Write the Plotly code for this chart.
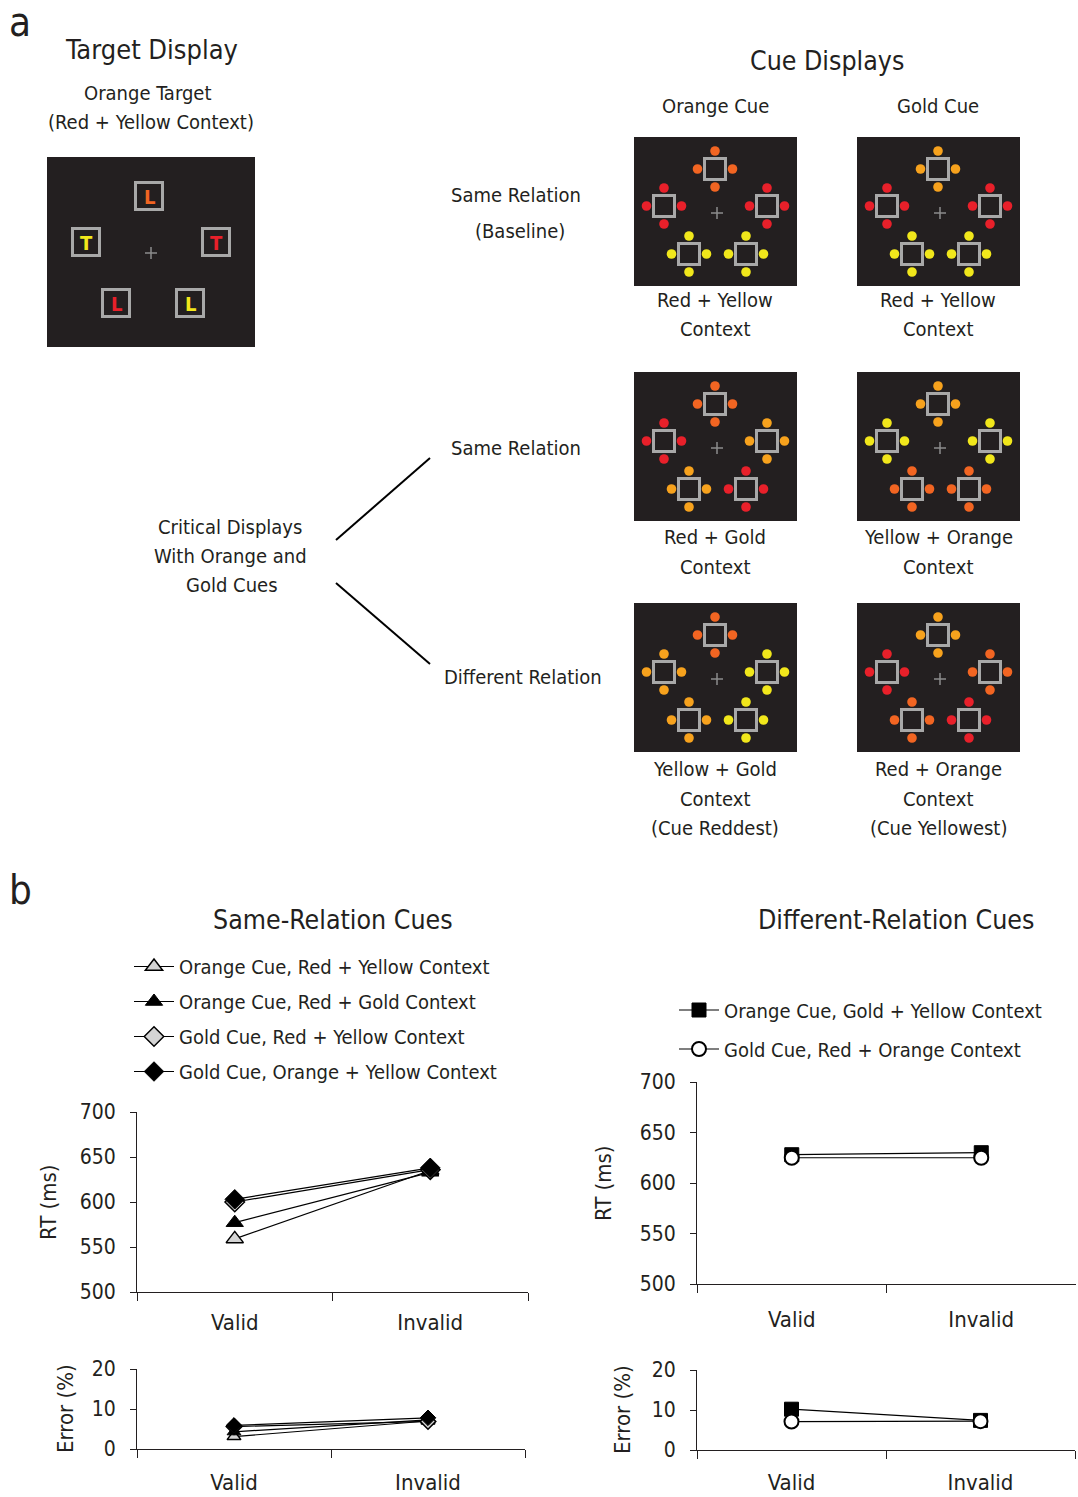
import plotly.graph_objects as go

W, H = 1078, 1497
FONT = "Liberation Sans Narrow, Arial Narrow, DejaVu Sans Condensed, sans-serif"
INK = "#231f20"

# ---------------- data (panel b) ----------------
conditions = ["Valid", "Invalid"]

same_names = ["Orange Cue, Red + Yellow Context", "Orange Cue, Red + Gold Context",
              "Gold Cue, Red + Yellow Context", "Gold Cue, Orange + Yellow Context"]
same_rt_orange_ry = [559, 635]
same_rt_orange_rg = [577, 633]
same_rt_gold_ry = [600, 636]
same_rt_gold_oy = [603, 638]
same_err_orange_ry = [3.1, 7.0]
same_err_orange_rg = [4.3, 7.3]
same_err_gold_ry = [5.6, 6.9]
same_err_gold_oy = [5.9, 7.8]

diff_names = ["Orange Cue, Gold + Yellow Context", "Gold Cue, Red + Orange Context"]
diff_rt_orange_gy = [628, 630]
diff_rt_gold_ro = [625, 625]
diff_err_orange_gy = [10.2, 7.4]
diff_err_gold_ro = [7.1, 7.2]

rt_ticks = [500, 550, 600, 650, 700]
err_ticks = [0, 10, 20]

# ---------------- panel a display configs ----------------
RED, ORANGE, GOLD, YELLOW = "#e8202a", "#f26522", "#f7a21d", "#f1e71b"
# order: top, left, right, bottom-left, bottom-right
cue_displays = [
    [ORANGE, RED, RED, YELLOW, YELLOW],
    [GOLD, RED, RED, YELLOW, YELLOW],
    [ORANGE, RED, GOLD, GOLD, RED],
    [GOLD, YELLOW, YELLOW, ORANGE, ORANGE],
    [ORANGE, GOLD, YELLOW, GOLD, YELLOW],
    [GOLD, RED, ORANGE, ORANGE, RED],
]
target_letters = ["L", "T", "T", "L", "L"]
target_colors = [ORANGE, YELLOW, RED, RED, YELLOW]


def X(px):
    return px / W


def Y(py):
    return 1 - py / H


shapes = []
annotations = []


def text(x, y, s, size=20, anchor="center", color=INK, angle=0):
    annotations.append(dict(x=X(x), y=Y(y), xref="paper", yref="paper", text=s,
                            showarrow=False, textangle=angle,
                            font=dict(family=FONT, size=size, color=color),
                            xanchor=anchor, yanchor="middle"))


def rect(x0, y0, x1, y1, fill=None, line=None, lw=0):
    shapes.append(dict(type="rect", xref="paper", yref="paper",
                       x0=X(x0), x1=X(x1), y0=Y(y1), y1=Y(y0),
                       fillcolor=fill if fill else "rgba(0,0,0,0)",
                       line=dict(color=line if line else "rgba(0,0,0,0)", width=lw)))


def circ(cx, cy, r, fill):
    shapes.append(dict(type="circle", xref="paper", yref="paper",
                       x0=X(cx - r), x1=X(cx + r), y0=Y(cy + r), y1=Y(cy - r),
                       fillcolor=fill, line=dict(width=0)))


def seg(x0, y0, x1, y1, color=INK, lw=1.5):
    shapes.append(dict(type="line", xref="paper", yref="paper",
                       x0=X(x0), x1=X(x1), y0=Y(y0), y1=Y(y1),
                       line=dict(color=color, width=lw)))


BG = "#231f20"
SQ = "#a8a8a8"
CROSS = "#8c8c8c"

# target display
rect(47, 157, 255, 347, fill=BG)
t_pos = [(149, 196), (86, 242), (216, 242), (116, 303), (190, 303)]
for (cx, cy), letter, col in zip(t_pos, target_letters, target_colors):
    rect(cx - 13.5, cy - 13.5, cx + 13.5, cy + 13.5, line=SQ, lw=3)
    text(cx, cy + 1, "<b>" + letter + "</b>", size=20, color=col)
seg(145, 253, 157, 253, CROSS, 1.5)
seg(151, 247, 151, 259, CROSS, 1.5)

# cue displays
origins = [(634, 137), (857, 137), (634, 372), (857, 372), (634, 603), (857, 603)]
rel = [(81, 32), (30, 69), (133, 69), (55, 117), (112, 117)]
for (ox, oy), cols in zip(origins, cue_displays):
    rect(ox, oy, ox + 163, oy + 149, fill=BG)
    for (rx, ry), col in zip(rel, cols):
        cx, cy = ox + rx, oy + ry
        for dx, dy in [(0, -18), (0, 18), (-17.5, 0), (17.5, 0)]:
            circ(cx + dx, cy + dy, 4.8, col)
        rect(cx - 10.5, cy - 10.5, cx + 10.5, cy + 10.5, line=SQ, lw=3)
    cx, cy = ox + 83, oy + 76
    seg(cx - 6, cy, cx + 6, cy, CROSS, 1.5)
    seg(cx, cy - 6, cx, cy + 6, CROSS, 1.5)

# connector lines
seg(336, 540, 430, 458, "black", 2)
seg(336, 583, 430, 664, "black", 2)

# panel a texts
text(20, 22, "a", size=40)
text(151, 50, "Target Display", size=27)
text(148, 93, "Orange Target", size=20)
text(151, 122, "(Red + Yellow Context)", size=20)
text(827, 60, "Cue Displays", size=26.5)
text(715, 106, "Orange Cue", size=20)
text(938, 106, "Gold Cue", size=20)
text(516, 195, "Same Relation", size=20)
text(520, 231, "(Baseline)", size=20)
text(516, 448, "Same Relation", size=20)
text(523, 677, "Different Relation", size=20)
text(230, 527, "Critical Displays", size=20)
text(230, 556, "With Orange and", size=20)
text(232, 585, "Gold Cues", size=20)
for cx, lines, y0 in [(715, ["Red + Yellow", "Context"], 300), (938, ["Red + Yellow", "Context"], 300),
                      (715, ["Red + Gold", "Context"], 537), (938, ["Yellow + Orange", "Context"], 537),
                      (715, ["Yellow + Gold", "Context", "(Cue Reddest)"], 769),
                      (938, ["Red + Orange", "Context", "(Cue Yellowest)"], 769)]:
    for i, s in enumerate(lines):
        text(cx, y0 + i * 29.5, s, size=20)

# panel b texts
text(20, 890, "b", size=40)
text(333, 919, "Same-Relation Cues", size=26.5)
text(896, 919, "Different-Relation Cues", size=26.5)
text(48, 1202, "RT (ms)", size=22, angle=-90)
text(65, 1409, "Error (%)", size=22, angle=-90)
text(603, 1183, "RT (ms)", size=22, angle=-90)
text(622, 1410, "Error (%)", size=22, angle=-90)

# ---------------- traces ----------------
fig = go.Figure()
LINE = dict(color="black", width=1.2)
same_rt = [same_rt_orange_ry, same_rt_orange_rg, same_rt_gold_ry, same_rt_gold_oy]
same_err = [same_err_orange_ry, same_err_orange_rg, same_err_gold_ry, same_err_gold_oy]
same_markers = [
    dict(symbol="triangle-up", color="#d4d4d4", size=15, line=dict(color="black", width=1.5)),
    dict(symbol="triangle-up", color="black", size=15, line=dict(color="black", width=1)),
    dict(symbol="diamond", color="#d4d4d4", size=15, line=dict(color="black", width=1.5)),
    dict(symbol="diamond", color="black", size=15, line=dict(color="black", width=1)),
]
for i, (nm, rt, er, mk) in enumerate(zip(same_names, same_rt, same_err, same_markers)):
    fig.add_trace(go.Scatter(x=conditions, y=rt, mode="lines+markers", name=nm,
                             xaxis="x", yaxis="y", line=LINE, marker=mk,
                             legend="legend", legendgroup="s%d" % i))
    mk_small = dict(mk)
    mk_small["size"] = 12
    fig.add_trace(go.Scatter(x=conditions, y=er, mode="lines+markers", name=nm,
                             xaxis="x2", yaxis="y2", line=LINE, marker=mk_small,
                             showlegend=False))

diff_rt = [diff_rt_orange_gy, diff_rt_gold_ro]
diff_err = [diff_err_orange_gy, diff_err_gold_ro]
diff_markers = [
    dict(symbol="square", color="black", size=14, line=dict(color="black", width=1)),
    dict(symbol="circle", color="white", size=14, line=dict(color="black", width=2)),
]
for i, (nm, rt, er, mk) in enumerate(zip(diff_names, diff_rt, diff_err, diff_markers)):
    fig.add_trace(go.Scatter(x=conditions, y=rt, mode="lines+markers", name=nm,
                             xaxis="x3", yaxis="y3", line=LINE, marker=mk,
                             legend="legend2", legendgroup="d%d" % i))
    fig.add_trace(go.Scatter(x=conditions, y=er, mode="lines+markers", name=nm,
                             xaxis="x4", yaxis="y4", line=LINE, marker=mk,
                             showlegend=False))

XTICKFONT = dict(family=FONT, size=22, color=INK)
YTICKFONT = dict(family=FONT, size=21, color=INK)


def xax(x0, x1, anchor, standoff):
    return dict(domain=[X(x0), X(x1)], anchor=anchor, type="category",
                range=[-0.5, 1.5], tickson="boundaries", ticks="outside",
                ticklen=8, tickwidth=1, tickcolor=INK, showline=True, linecolor=INK,
                linewidth=1, showgrid=False, zeroline=False, tickfont=XTICKFONT,
                ticklabelstandoff=standoff, fixedrange=True, automargin=False)


def yax(ytop, ybot, anchor, rng, tv):
    return dict(domain=[Y(ybot), Y(ytop)], anchor=anchor, range=rng, tickvals=tv,
                ticks="outside", ticklen=6, tickwidth=1, tickcolor=INK, showline=True,
                linecolor=INK, linewidth=1, showgrid=False, zeroline=False,
                tickfont=YTICKFONT, ticklabelstandoff=10, fixedrange=True,
                automargin=False)


LEGFONT = dict(family=FONT, size=20, color=INK)
fig.update_layout(
    width=W, height=H, autosize=False,
    margin=dict(l=0, r=0, t=0, b=0, pad=0, autoexpand=False),
    paper_bgcolor="white", plot_bgcolor="rgba(0,0,0,0)",
    font=dict(family=FONT, color=INK),
    xaxis=xax(137, 528, "y", 11), yaxis=yax(1112, 1292, "x", [500, 700], rt_ticks),
    xaxis2=xax(137, 525, "y2", 14), yaxis2=yax(1369, 1449, "x2", [0, 20], err_ticks),
    xaxis3=xax(697, 1076, "y3", 16), yaxis3=yax(1082, 1284, "x3", [500, 700], rt_ticks),
    xaxis4=xax(697, 1075, "y4", 13), yaxis4=yax(1370, 1450, "x4", [0, 20], err_ticks),
    legend=dict(x=X(129), y=Y(947), xanchor="left", yanchor="top", font=LEGFONT,
                bgcolor="rgba(0,0,0,0)", tracegroupgap=6, itemclick=False,
                itemwidth=40),
    legend2=dict(x=X(674), y=Y(990.5), xanchor="left", yanchor="top", font=LEGFONT,
                 bgcolor="rgba(0,0,0,0)", tracegroupgap=10, itemclick=False,
                 itemwidth=40),
    shapes=shapes, annotations=annotations, showlegend=True,
)

fig.write_html("out.html", config={"displayModeBar": False},
               post_script="document.body.style.margin='0';")
